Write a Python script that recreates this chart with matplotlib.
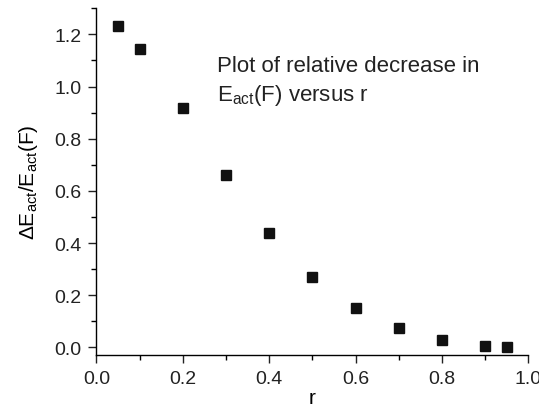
import numpy as np
import matplotlib
matplotlib.use("Agg")
import matplotlib.pyplot as plt
from matplotlib.ticker import MultipleLocator

plt.rcParams['font.family'] = ['Liberation Sans', 'DejaVu Sans']
plt.rcParams['mathtext.fontset'] = 'custom'
plt.rcParams['mathtext.rm'] = 'Liberation Sans'
plt.rcParams['mathtext.it'] = 'Liberation Sans'
plt.rcParams['mathtext.default'] = 'regular'

# datos
r = [0.05, 0.1, 0.2, 0.3, 0.4, 0.5, 0.6, 0.7, 0.8, 0.9, 0.95]
dE = [1.232, 1.143, 0.918, 0.66, 0.437, 0.270, 0.152, 0.075, 0.029, 0.006, 0.001]

fig = plt.figure(figsize=(5.39, 4.10), dpi=100)
ax = fig.add_axes([0.179, 0.1324, 0.801, 0.845])
ax.plot(r, dE, linestyle="none", marker="s", markersize=7.2, color="#111111")

ax.set_xlim(0, 1.0)
ax.set_ylim(-0.028, 1.30)
ax.xaxis.set_major_locator(MultipleLocator(0.2))
ax.xaxis.set_minor_locator(MultipleLocator(0.1))
ax.yaxis.set_major_locator(MultipleLocator(0.2))
ax.yaxis.set_minor_locator(MultipleLocator(0.1))
ax.xaxis.set_major_formatter(plt.FormatStrFormatter('%.1f'))
ax.yaxis.set_major_formatter(plt.FormatStrFormatter('%.1f'))
ax.spines['top'].set_visible(False)
ax.spines['right'].set_visible(False)
for s in ['left', 'bottom']:
    ax.spines[s].set_linewidth(1.0)
ax.tick_params(which='major', direction='out', length=6, width=1, labelsize=14,
               colors='#222222', pad=5)
ax.tick_params(which='minor', direction='out', length=3.5, width=1)

ax.set_xlabel("r", fontsize=15, labelpad=1)
ax.set_ylabel(r"$\Delta E_{act}/E_{act}(F)$", fontsize=15, labelpad=10)

ax.text(0.279, 0.865, "Plot of relative decrease in\n$E_{act}$(F) versus r",
        transform=ax.transAxes, fontsize=16, va="top", ha="left", color="#222222",
        linespacing=1.35)

fig.savefig("out.png", dpi=100)
